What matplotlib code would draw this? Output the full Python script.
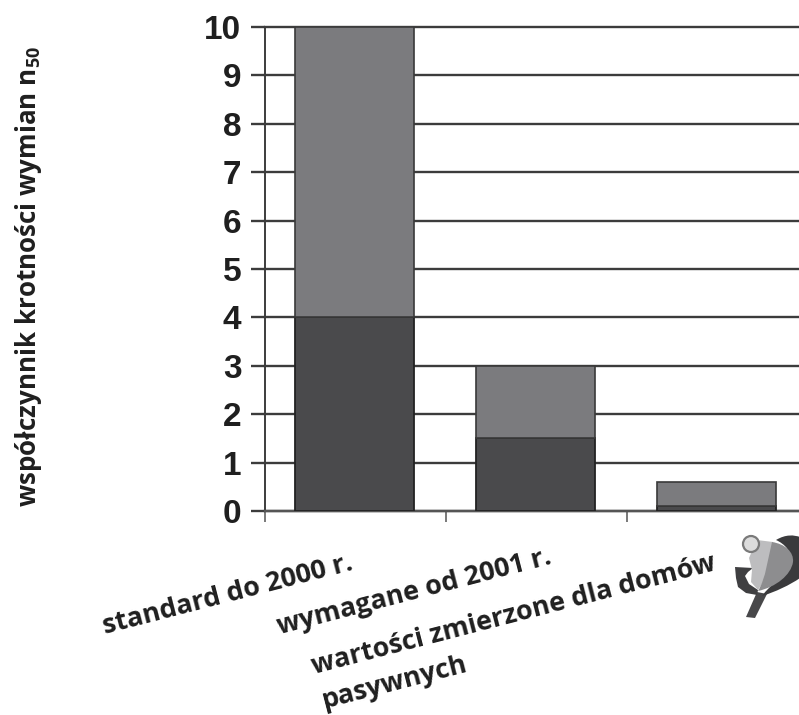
#!/usr/bin/env python3
"""Stacked bars of the air change rate n50 for three building standards."""

import matplotlib.pyplot as plt
import numpy as np
from matplotlib.patches import Circle, PathPatch, Polygon
from matplotlib.path import Path

WIDTH_PX = 799
HEIGHT_PX = 715
DPI = 100

CATEGORIES = ["standard do 2000 r.", "wymagane od 2001 r.", "wartości zmierzone dla domów", "pasywnych"]
LOWER_VALUES = [4.0, 1.5, 0.1]
UPPER_VALUES = [6.0, 1.5, 0.5]
Y_TICKS = list(range(11))
Y_LABEL = "współczynnik krotności wymian n$_{\\mathregular{50}}$"

DARK = "#4a4a4c"
MID = "#7b7b7e"
EDGE = "#3a3a3a"
TEXT = "#1f1f1f"


def px(x, y):
    """Pixel position, measured from the top left, in figure fraction."""
    return x / WIDTH_PX, 1 - y / HEIGHT_PX


def smooth(points, **kwargs):
    codes = [Path.MOVETO] + [Path.CURVE4] * (len(points) - 1)
    return PathPatch(Path(points, codes), lw=0, **kwargs)


def draw_logo(fig):
    overlay = fig.add_axes([0, 0, 1, 1], zorder=5)
    overlay.set_xlim(0, WIDTH_PX)
    overlay.set_ylim(HEIGHT_PX, 0)
    overlay.axis("off")

    overlay.add_patch(Polygon([(746, 617), (757, 592), (767, 594), (755, 618)], fc="#48484a", lw=0))
    # dark outer arc on the right, running off the edge
    overlay.add_patch(smooth(
        [(776, 540), (786, 534), (794, 535), (800, 537),
         (800, 550), (800, 565), (800, 578),
         (790, 585), (775, 592), (762, 596),
         (770, 585), (785, 575), (790, 560),
         (792, 552), (785, 544), (776, 540)],
        fc="#3a3a3c",
    ))
    # dark cup on the left
    overlay.add_patch(Polygon(
        [(735, 567), (753, 568), (748, 572), (745, 576), (749, 584), (758, 590), (757, 595),
         (746, 593), (738, 587), (736, 578)],
        fc="#3f3f41", lw=0,
    ))
    overlay.add_patch(Polygon(
        [(757, 540), (773, 542), (770, 560), (766, 578), (758, 590), (751, 582), (752, 570), (749, 558)],
        fc="#bdbdbf", lw=0,
    ))
    overlay.add_patch(smooth(
        [(772, 542), (785, 544), (794, 552), (793, 562),
         (791, 575), (776, 587), (758, 591),
         (766, 578), (768, 558), (772, 542)],
        fc="#8d8d8f",
    ))
    overlay.add_patch(Circle((751, 544), 8, fc="#dcdcdc", ec="#7a7a7a", lw=1.6))


def main():
    plt.rcParams["font.family"] = ["Liberation Sans", "DejaVu Sans"]
    fig = plt.figure(figsize=(WIDTH_PX / DPI, HEIGHT_PX / DPI), dpi=DPI)

    left, top = px(265, 27)
    _, bottom = px(0, 511)
    ax = fig.add_axes([left, bottom, 1 - left, top - bottom])

    centers = np.arange(3) + 0.5
    ax.set_xlim(0.005, 0.005 + (WIDTH_PX - 265) / 181)
    ax.set_ylim(0, 10)

    ax.bar(centers, LOWER_VALUES, 0.66, color=DARK, edgecolor="#222222", lw=1.3, zorder=3)
    ax.bar(centers, UPPER_VALUES, 0.66, bottom=LOWER_VALUES, color=MID, edgecolor=EDGE, lw=1.2, zorder=3)

    ax.set_yticks(Y_TICKS)
    ax.set_yticklabels([str(v) for v in Y_TICKS], fontsize=24, fontweight="bold", color=TEXT)
    ax.yaxis.grid(True, color="#3c3c3c", lw=1.7)
    for line in ax.get_ygridlines():
        line.set_clip_on(False)
    ax.set_axisbelow(True)
    ax.tick_params(axis="y", length=10, width=1.7, color="#3c3c3c", pad=7)
    ax.set_xticks(np.arange(3) + 0.005)
    ax.set_xticklabels([])
    ax.tick_params(axis="x", length=8, width=1.1, color="#555555", direction="out")

    for side in ("top", "right"):
        ax.spines[side].set_visible(False)
    ax.spines["left"].set_linewidth(1.4)
    ax.spines["left"].set_color("#3c3c3c")
    ax.spines["bottom"].set_linewidth(1.7)
    ax.spines["bottom"].set_color("#555555")

    # Labels start at a baseline point and climb to the right
    anchors = [(105, 634), (279, 634), (314, 674), (324, 708)]
    for label, (x, y) in zip(CATEGORIES, anchors):
        fx, fy = px(x, y)
        fig.text(
            fx, fy, label,
            family="Open Sans", fontsize=19.4, fontweight="bold", color=TEXT,
            rotation=14.5, rotation_mode="anchor", ha="left", va="baseline",
        )

    fx, fy = px(29, 276)
    fig.text(
        fx, fy, Y_LABEL,
        family="Open Sans", fontsize=18.7, fontweight="bold", color=TEXT,
        rotation=90, ha="center", va="center",
    )

    draw_logo(fig)
    fig.savefig("out.png", dpi=DPI)
    plt.close(fig)


if __name__ == "__main__":
    main()
